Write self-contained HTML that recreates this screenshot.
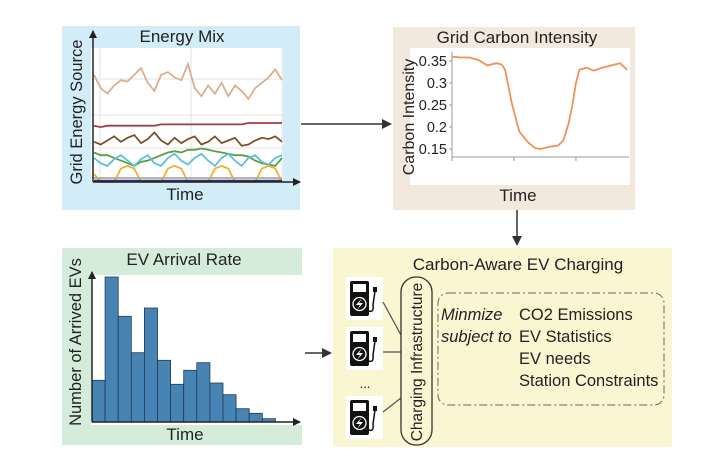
<!DOCTYPE html>
<html><head><meta charset="utf-8"><style>
body{margin:0;background:#fff;}
svg{display:block;font-family:"Liberation Sans",sans-serif;}
</style></head><body>
<svg id="s" width="728" height="456" viewBox="0 0 728 456" xmlns="http://www.w3.org/2000/svg">
<defs><marker id="ah" markerWidth="10" markerHeight="10" refX="8" refY="5" orient="auto" markerUnits="userSpaceOnUse"><path d="M0,0 L10,5 L0,10 Z" fill="#333"/></marker>
<marker id="ah2" markerWidth="8" markerHeight="8" refX="7" refY="4" orient="auto" markerUnits="userSpaceOnUse"><path d="M0,0 L8,4 L0,8 Z" fill="#222"/></marker></defs>

<g>
<rect x="62" y="26" width="238" height="184" fill="#d3edf8"/>
<rect x="91" y="48" width="192" height="134" fill="#fff"/>
<g stroke="#e3e3e3" stroke-width="1">
<line x1="100" y1="48" x2="100" y2="182"/><line x1="191" y1="48" x2="191" y2="182"/><line x1="282" y1="48" x2="282" y2="182"/>
<line x1="91" y1="79" x2="283" y2="79"/><line x1="91" y1="115" x2="283" y2="115"/><line x1="91" y1="148" x2="283" y2="148"/>
</g>
<g id="emLines"></g>
<line x1="93" y1="182" x2="93" y2="31" stroke="#222" stroke-width="1.5" marker-end="url(#ah2)"/>
<line x1="93" y1="182" x2="300" y2="182" stroke="#222" stroke-width="1.5" marker-end="url(#ah2)"/>
<text x="182" y="42" font-size="17" text-anchor="middle" fill="#222">Energy Mix</text>
<text x="185" y="200" font-size="17" text-anchor="middle" fill="#222">Time</text>
<text transform="translate(82,112) rotate(-90)" font-size="16.5" text-anchor="middle" fill="#222">Grid Energy Source</text>
</g>

<line x1="301" y1="124" x2="390" y2="124" stroke="#333" stroke-width="1.5" marker-end="url(#ah)"/>

<g>
<rect x="393" y="27" width="242" height="183" fill="#f3e8dd"/>
<rect x="410" y="48" width="220" height="137" fill="#fff"/>
<text x="517" y="43" font-size="17" text-anchor="middle" fill="#222">Grid Carbon Intensity</text>
<g id="ciAxes"></g>
<path id="ciLine" fill="none" stroke="#f0905a" stroke-width="1.8"/>
<text x="518" y="201" font-size="17" text-anchor="middle" fill="#222">Time</text>
<text transform="translate(414,117) rotate(-90)" font-size="16" text-anchor="middle" fill="#222">Carbon Intensity</text>
</g>

<line x1="517" y1="210" x2="517" y2="244" stroke="#333" stroke-width="1.5" marker-end="url(#ah)"/>

<g>
<rect x="62" y="248" width="240" height="197" fill="#d4ecd9"/>
<rect x="91" y="275" width="211" height="150" fill="#fff"/>
<text x="184" y="265" font-size="17" text-anchor="middle" fill="#222">EV Arrival Rate</text>
<g id="bars"></g>
<line x1="92" y1="422" x2="92" y2="272" stroke="#222" stroke-width="1.5" marker-end="url(#ah2)"/>
<line x1="92" y1="422" x2="300" y2="422" stroke="#222" stroke-width="1.5" marker-end="url(#ah2)"/>
<text x="185" y="440" font-size="17" text-anchor="middle" fill="#222">Time</text>
<text transform="translate(81,342) rotate(-90)" font-size="16.5" text-anchor="middle" fill="#222">Number of Arrived EVs</text>
</g>

<line x1="305" y1="353" x2="330" y2="353" stroke="#333" stroke-width="1.5" marker-end="url(#ah)"/>

<g>
<rect x="333" y="248" width="339" height="199" fill="#fbf6d2"/>
<text x="518" y="270" font-size="17" text-anchor="middle" fill="#222">Carbon-Aware EV Charging</text>
<g id="pumps"></g>
<text x="365" y="388" font-size="13" text-anchor="middle" fill="#222">...</text>
<g stroke="#555" stroke-width="1.3"><line x1="383" y1="302" x2="401" y2="335"/><line x1="383" y1="352" x2="401" y2="352"/><line x1="383" y1="412" x2="401" y2="398"/></g>
<rect x="401" y="277" width="31" height="168" rx="15" fill="none" stroke="#333" stroke-width="1.3"/>
<text transform="translate(422,362) rotate(-90)" font-size="15.5" text-anchor="middle" fill="#222">Charging Infrastructure</text>
<rect x="438" y="293" width="226" height="112" rx="10" fill="none" stroke="#666" stroke-width="1" stroke-dasharray="8,3,2,3"/>
<g font-size="16.5" fill="#222">
<text x="441" y="320" font-style="italic">Minmize</text>
<text x="441" y="342" font-style="italic">subject to</text>
<text x="519" y="320">CO2 Emissions</text>
<text x="519" y="342">EV Statistics</text>
<text x="519" y="364">EV needs</text>
<text x="519" y="386">Station Constraints</text>
</g>
</g>
</svg>
<script>
const NS="http://www.w3.org/2000/svg";
const emTan=[80,70,66,72,76,75,80,85,74,68,80,82,78,76,88,70,64,72,66,74,64,72,68,62,70,74,78,84,76];
const emRed=[42,41,42,42,42,42,42,42,42,42,43,43,43,43,43,43,43,43,43,43,43,43,43,44,44,44,44,44,44];
const emBrown=[30,28,31,34,30,33,35,29,32,37,31,28,33,29,32,34,28,30,34,29,31,33,27,28,31,33,32,34,30];
const emGreen=[22,20,20,18,16,14,12,15,16,18,20,22,23,22,24,24,25,24,23,22,21,20,20,19,16,14,13,12,18];
const emCyan=[18,14,12,17,20,16,12,17,20,14,12,18,21,16,13,18,21,16,12,18,21,16,12,18,20,15,13,18,20];
const emOrange=[6,0,0,0,10,12,10,0,0,0,0,10,12,10,0,0,0,0,10,12,10,0,0,0,0,10,12,10,0];
const emGray=[3,3,3,3,3,3,3,3,3,3,3,3,3,3,3,3,3,3,3,3,3,3,3,3,3,3,3,3,3];
const emNavy=[1,1,1,1,1,1,1,1,1,1,1,1,1,1,1,1,1,1,1,1,1,1,1,1,1,1,1,1,1];
const emNames=["tan","red","brown","green","cyan","orange","gray","navy"];
const emColors=["#dbaf8e","#a33a4e","#7a5230","#5aa040","#58c0e0","#f0b030","#aaaaaa","#303070"];
const emAll=[emTan,emRed,emBrown,emGreen,emCyan,emOrange,emGray,emNavy];
function emX(i,n){return 94+i*(188/(n-1));}
function emY(v){return 182-v*1.34;}
const g=document.getElementById('emLines');
emAll.forEach((arr,k)=>{
  const p=document.createElementNS(NS,'path');
  p.setAttribute('d',arr.map((v,i)=>(i?'L':'M')+emX(i,arr.length).toFixed(1)+','+emY(v).toFixed(1)).join(''));
  p.setAttribute('fill','none');p.setAttribute('stroke',emColors[k]);p.setAttribute('stroke-width','1.8');
  
  
  g.appendChild(p);
});

const ciT=[0,0.05,0.1,0.15,0.2,0.25,0.28,0.3,0.32,0.34,0.36,0.38,0.4,0.43,0.47,0.5,0.55,0.6,0.63,0.66,0.68,0.7,0.72,0.76,0.8,0.85,0.9,0.95,0.99];
const ciV=[0.36,0.358,0.358,0.352,0.34,0.345,0.342,0.33,0.29,0.25,0.22,0.19,0.18,0.165,0.152,0.15,0.155,0.158,0.17,0.21,0.25,0.3,0.33,0.335,0.328,0.335,0.34,0.345,0.33];
const ciTicks=[0.15,0.2,0.25,0.3,0.35];
const ciTickLabels=["0.15","0.2","0.25","0.3","0.35"];
const ciX0=452,ciX1=629;
function ciX(t){return ciX0+t*(ciX1-ciX0);}
function ciY(v){return 149-(v-0.15)*(88/0.2);}
const ax=document.getElementById('ciAxes');
let h='<line x1="452" y1="52" x2="452" y2="158" stroke="#999"/><line x1="452" y1="157" x2="629" y2="157" stroke="#999"/>';
[0,0.35,0.7].forEach(t=>{h+='<line x1="'+ciX(t)+'" y1="157" x2="'+ciX(t)+'" y2="161" stroke="#999"/>';});
ciTicks.forEach((v,i)=>{h+='<line x1="449" x2="452" y1="'+ciY(v)+'" y2="'+ciY(v)+'" stroke="#999"/><text x="447" y="'+(ciY(v)+5)+'" font-size="14.5" text-anchor="end" fill="#222">'+ciTickLabels[i]+'</text>';});
ax.innerHTML=h;
document.getElementById('ciLine').setAttribute('d',ciT.map((t,i)=>(i?'L':'M')+ciX(t).toFixed(1)+','+ciY(ciV[i]).toFixed(1)).join(''));

const evBins=[1,2,3,4,5,6,7,8,9,10,11,12,13,14];
const evCounts=[125,435,317,208,342,185,113,155,178,117,82,40,26,10];
const bg=document.getElementById('bars');
const bw=13.1;
evCounts.forEach((c,i)=>{
  const r=document.createElementNS(NS,'rect');
  const hh=c/3;
  r.setAttribute('x',(92+i*bw).toFixed(1));r.setAttribute('y',(422-hh).toFixed(1));
  r.setAttribute('width',bw.toFixed(1));r.setAttribute('height',hh.toFixed(1));
  r.setAttribute('fill','#4884b3');r.setAttribute('stroke','#1f3a55');r.setAttribute('stroke-width','0.8');
  
  
  bg.appendChild(r);
});

const pg=document.getElementById('pumps');
[277,327,396].forEach((y,i)=>{
  const gg=document.createElementNS(NS,'g');
  
  
  gg.innerHTML='<rect x="346" y="'+y+'" width="37" height="43" fill="#fff"/>'+
  '<rect x="350" y="'+(y+4)+'" width="19" height="35" rx="2" fill="#111"/>'+
  '<rect x="353" y="'+(y+7)+'" width="13" height="8" fill="#fff"/>'+
  '<circle cx="359.5" cy="'+(y+27)+'" r="6.5" fill="none" stroke="#fff" stroke-width="1.3"/>'+
  '<path d="M362,'+(y+21)+' L356,'+(y+28)+' L360,'+(y+28)+' L357,'+(y+33)+' L363,'+(y+26)+' L359,'+(y+26)+'Z" fill="#fff"/>'+
  '<path d="M369,'+(y+34)+' Q374,'+(y+36)+' 373,'+(y+28)+' L375,'+(y+14)+'" fill="none" stroke="#111" stroke-width="1.5"/>'+
  '<rect x="373" y="'+(y+10)+'" width="4" height="5" fill="#111"/>';
  pg.appendChild(gg);
});
</script>
</body></html>
